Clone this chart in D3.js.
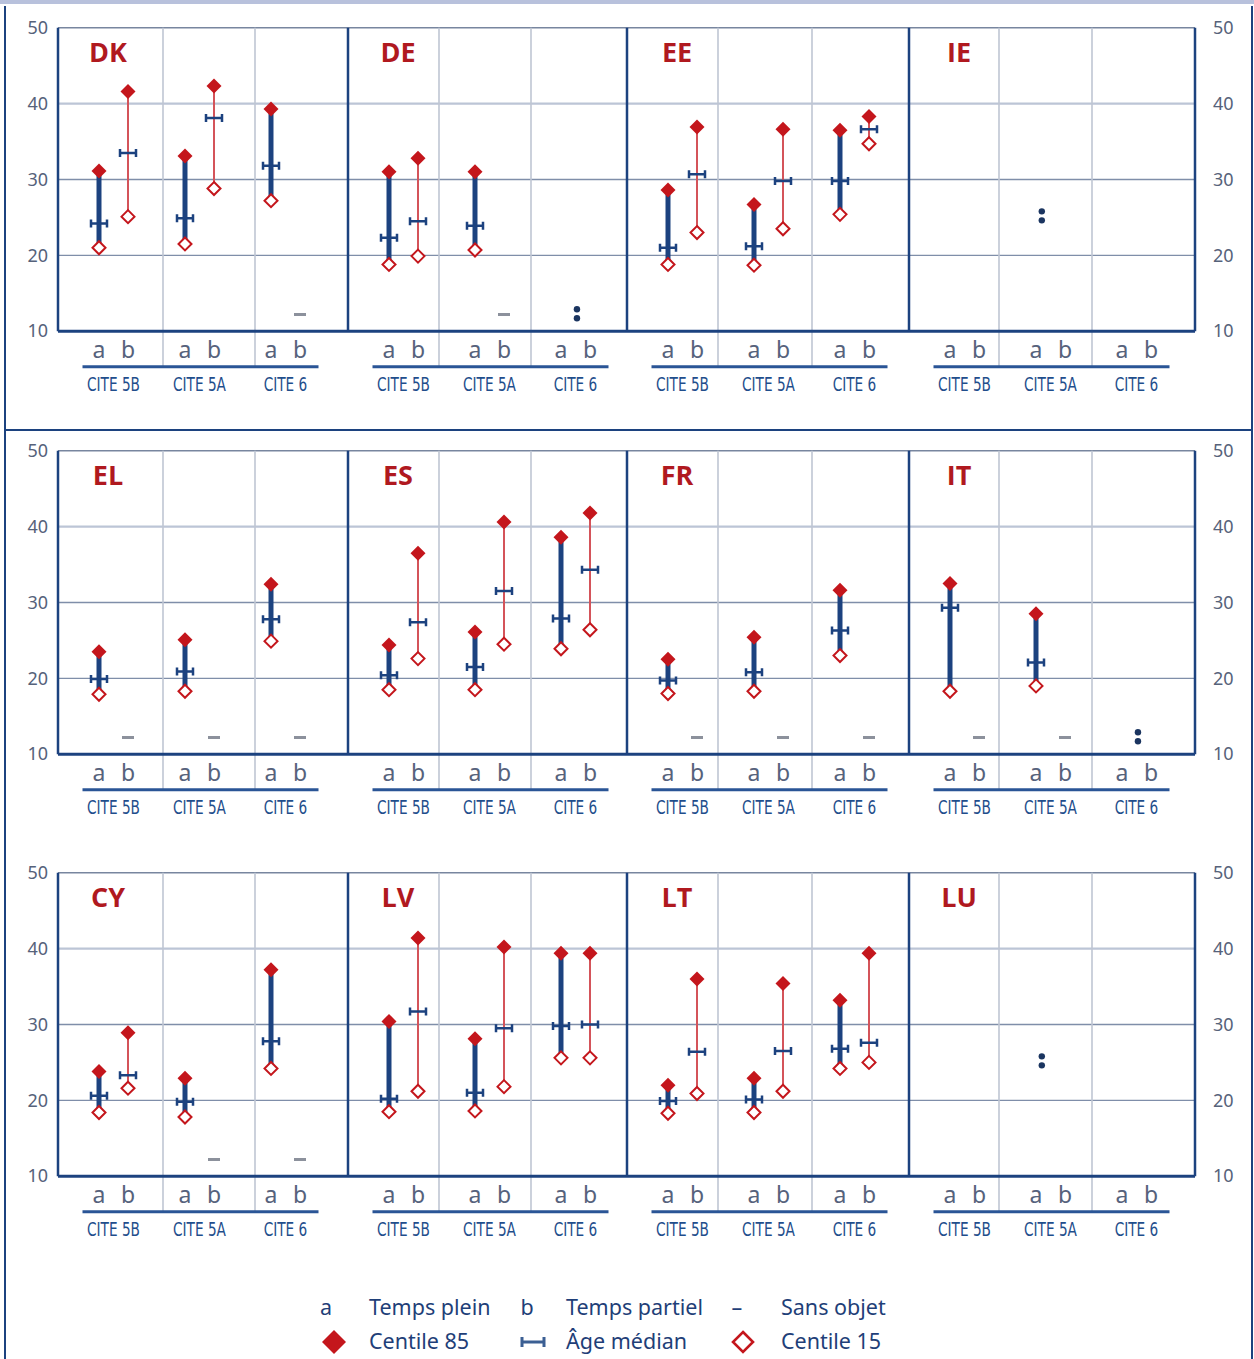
<!DOCTYPE html>
<html><head><meta charset="utf-8">
<script src="https://cdn.jsdelivr.net/npm/d3@7"></script>
<style>body{margin:0;background:#fff} svg{display:block}</style>
</head><body><svg id="chart" width="1254" height="1359"></svg>
<script>
// ---------------- DATA ----------------
const countries = ["DK","DE","EE","IE","EL","ES","FR","IT","CY","LV","LT","LU"];
const groups = ["CITE 5B","CITE 5A","CITE 6"];
const modes = ["a","b"];
const yTicks = [10,20,30,40,50];
// per country, order: 5B-a, 5B-b, 5A-a, 5A-b, 6-a, 6-b  (null = no value)
const centile85 = [
  [31.1,41.6,33.1,42.3,39.3,null],
  [31.0,32.8,31.0,null,null,null],
  [28.6,36.9,26.7,36.6,36.5,38.3],
  [null,null,null,null,null,null],
  [23.5,null,25.1,null,32.4,null],
  [24.4,36.5,26.1,40.6,38.6,41.8],
  [22.5,null,25.4,null,31.6,null],
  [32.5,null,28.5,null,null,null],
  [23.8,28.9,22.9,null,37.2,null],
  [30.4,41.4,28.1,40.2,39.4,39.4],
  [22.0,36.0,22.9,35.4,33.2,39.4],
  [null,null,null,null,null,null]
];
const median = [
  [24.2,33.5,24.9,38.1,31.8,null],
  [22.3,24.5,23.9,null,null,null],
  [21.0,30.7,21.2,29.8,29.8,36.6],
  [null,null,null,null,null,null],
  [19.9,null,20.9,null,27.8,null],
  [20.4,27.4,21.5,31.5,27.9,34.3],
  [19.7,null,20.8,null,26.3,null],
  [29.3,null,22.1,null,null,null],
  [20.6,23.3,19.8,null,27.8,null],
  [20.2,31.7,21.0,29.5,29.8,30.0],
  [19.9,26.4,20.1,26.5,26.8,27.6],
  [null,null,null,null,null,null]
];
const centile15 = [
  [21.0,25.1,21.5,28.8,27.2,null],
  [18.8,19.9,20.7,null,null,null],
  [18.8,23.0,18.7,23.5,25.4,34.7],
  [null,null,null,null,null,null],
  [17.9,null,18.3,null,24.9,null],
  [18.5,22.6,18.5,24.5,23.9,26.4],
  [18.0,null,18.3,null,23.0,null],
  [18.3,null,19.0,null,null,null],
  [18.4,21.6,17.8,null,24.2,null],
  [18.5,21.2,18.6,21.8,25.6,25.6],
  [18.3,20.9,18.4,21.2,24.2,25.0],
  [null,null,null,null,null,null]
];
// "–" sans objet : [country, group, mode]
const sansObjet = [
  ["DK","CITE 6","b"],["DE","CITE 5A","b"],
  ["EL","CITE 5B","b"],["EL","CITE 5A","b"],["EL","CITE 6","b"],
  ["FR","CITE 5B","b"],["FR","CITE 5A","b"],["FR","CITE 6","b"],
  ["IT","CITE 5B","b"],["IT","CITE 5A","b"],
  ["CY","CITE 5A","b"],["CY","CITE 6","b"]
];
const sansObjetLevel = 12.2;
// ":" non disponible : [country, group, position between a(0) and b(1), level]
const nonDisponible = [
  ["DE","CITE 6",0.55,12.3],["IE","CITE 5A",0.2,25.2],
  ["IT","CITE 6",0.55,12.3],["LU","CITE 5A",0.2,25.2]
];
const legendRow1 = [["a","Temps plein"],["b","Temps partiel"],["–","Sans objet"]];
const legendRow2 = [["c85","Centile 85"],["med","Âge médian"],["c15","Centile 15"]];

// ---------------- LAYOUT / STYLE ----------------
const W = 1254, H = 1359;
const rowTops = [27.7, 450.7, 872.7];
const plotH = 303.5;
const colLefts = [58, 348, 627, 909];
const plotRight = 1195;
const dividerOffsets = [[105,197],[91,183],[91,185],[90,183]];
const C = {
  navy: "#1c427f", red: "#c4161c", redLine: "#d4545a", grid: "#7f8ea9",
  gridLight: "#bcc5d6", divider: "#bfc6d3", tick: "#56627a", cite: "#1f4e8c",
  abText: "#56627c", dash: "#8c919c", country: "#b0191f", legend: "#1f3f78"
};

const svg = d3.select("#chart");
svg.append("rect").attr("width", W).attr("height", H).attr("fill", "#fff");

// outer frame
svg.append("rect").attr("x",0).attr("y",0).attr("width",W).attr("height",4).attr("fill","#b8c1dc");
const frame = svg.append("g").attr("stroke", C.navy).attr("stroke-width", 2).attr("fill","none");
frame.append("line").attr("x1",5).attr("x2",5).attr("y1",6).attr("y2",H);
frame.append("line").attr("x1",1252).attr("x2",1252).attr("y1",6).attr("y2",H);
frame.append("line").attr("x1",5).attr("x2",1252).attr("y1",430).attr("y2",430);

const diamond = s => `M0,${-s}L${s},0L0,${s}L${-s},0Z`;

countries.forEach((country, ci) => {
  const row = Math.floor(ci / 4), col = ci % 4;
  const top = rowTops[row], bottom = top + plotH;
  const left = colLefts[col];
  const right = col < 3 ? colLefts[col + 1] : plotRight;
  const y = d3.scaleLinear().domain([10, 50]).range([bottom, top]);
  const x0 = d3.scaleBand().domain(groups).range([left + 12.5, left + 270.5]);
  const x1 = d3.scalePoint().domain(modes).range([-14.5, 14.5]);
  const xc = g => x0(g) + x0.bandwidth() / 2;
  const xm = (g, m) => xc(g) + x1(m);

  const g = svg.append("g");

  // horizontal gridlines
  [20, 30, 40].forEach(v => {
    g.append("line").attr("x1", left).attr("x2", right)
      .attr("y1", y(v)).attr("y2", y(v))
      .attr("stroke", v === 40 ? C.gridLight : C.grid)
      .attr("stroke-width", v === 40 ? 2.2 : 1.4);
  });
  // top line
  g.append("line").attr("x1", left).attr("x2", right).attr("y1", y(50)).attr("y2", y(50))
    .attr("stroke", "#78869f").attr("stroke-width", 1.5);
  // sub dividers (extend through a/b label area)
  dividerOffsets[col].forEach(o => {
    g.append("line").attr("x1", left + o).attr("x2", left + o)
      .attr("y1", y(50)).attr("y2", bottom + 35)
      .attr("stroke", C.divider).attr("stroke-width", 1.6);
  });

  // a/b labels
  groups.forEach(gr => {
    modes.forEach(m => {
      g.append("text").attr("x", xm(gr, m)).attr("y", bottom + 27)
        .attr("text-anchor", "middle").attr("fill", C.abText)
        .attr("font-family", "'Noto Sans', 'Open Sans', sans-serif")
        .attr("font-size", 23).text(m);
    });
    g.append("text")
      .attr("transform", `translate(${xc(gr)},${bottom + 60}) scale(0.76,1)`)
      .attr("text-anchor", "middle").attr("fill", C.cite)
      .attr("font-family", "'Liberation Sans Narrow', 'DejaVu Sans Condensed', 'Liberation Sans', sans-serif")
      .attr("font-size", 20).text(gr);
  });
  // underline
  g.append("line").attr("x1", x0(groups[0]) + 12).attr("x2", x0(groups[2]) + x0.bandwidth() - 10)
    .attr("y1", bottom + 35.5).attr("y2", bottom + 35.5)
    .attr("stroke", "#2a5596").attr("stroke-width", 3);

  // country label
  g.append("text").attr("x", xc(groups[0]) - 5.5).attr("y", top + 34)
    .attr("text-anchor", "middle").attr("fill", C.country)
    .attr("font-family", "'Open Sans', 'Noto Sans', sans-serif").attr("font-weight", 700)
    .attr("font-size", 27).text(country);

  // data marks
  const pts = [];
  groups.forEach((gr, gi) => modes.forEach((m, mi) => {
    const k = gi * 2 + mi;
    const hi = centile85[ci][k], md = median[ci][k], lo = centile15[ci][k];
    if (hi != null) pts.push({ gr, m, hi, md, lo });
  }));
  const mk = g.selectAll("g.pt").data(pts).join("g").attr("class", "pt")
    .attr("transform", d => `translate(${xm(d.gr, d.m)},0)`);
  mk.append("line").attr("y1", d => y(d.lo)).attr("y2", d => y(d.hi))
    .attr("stroke", d => d.m === "a" ? C.navy : C.redLine)
    .attr("stroke-width", d => d.m === "a" ? 5 : 2);
  mk.append("path").attr("d", d => `M-8,${y(d.md)}H8M-8,${y(d.md) - 4}V${y(d.md) + 4}M8,${y(d.md) - 4}V${y(d.md) + 4}`)
    .attr("stroke", C.navy).attr("stroke-width", 2.5).attr("fill", "none");
  mk.append("path").attr("transform", d => `translate(0,${y(d.hi)})`).attr("d", diamond(7.5))
    .attr("fill", C.red);
  mk.append("path").attr("transform", d => `translate(0,${y(d.lo)})`).attr("d", diamond(6.5))
    .attr("fill", "#fff").attr("stroke", C.red).attr("stroke-width", 2);

  // sans objet dashes
  sansObjet.filter(s => s[0] === country).forEach(s => {
    g.append("line").attr("x1", xm(s[1], s[2]) - 6).attr("x2", xm(s[1], s[2]) + 6)
      .attr("y1", y(sansObjetLevel)).attr("y2", y(sansObjetLevel))
      .attr("stroke", C.dash).attr("stroke-width", 3);
  });
  // non disponible ":"
  nonDisponible.filter(s => s[0] === country).forEach(s => {
    const xx = xm(s[1], "a") + s[2] * (xm(s[1], "b") - xm(s[1], "a"));
    [-1, 1].forEach(sg => {
      g.append("circle").attr("cx", xx).attr("cy", y(s[3]) + sg * 4.5).attr("r", 3.2).attr("fill", "#1b3560");
    });
  });

  // frame lines of panel
  g.append("line").attr("x1", left).attr("x2", right).attr("y1", bottom).attr("y2", bottom)
    .attr("stroke", C.navy).attr("stroke-width", 3);
  g.append("line").attr("x1", left).attr("x2", left).attr("y1", top).attr("y2", bottom)
    .attr("stroke", C.navy).attr("stroke-width", 2.5);
  if (col === 3) {
    g.append("line").attr("x1", right).attr("x2", right).attr("y1", top).attr("y2", bottom)
      .attr("stroke", C.navy).attr("stroke-width", 2.5);
  }

  // y axes
  if (col === 0) {
    const ax = svg.append("g").attr("transform", `translate(${left},0)`)
      .call(d3.axisLeft(y).tickValues(yTicks).tickSize(0).tickPadding(10));
    ax.select(".domain").remove();
    ax.selectAll("text").attr("fill", C.tick).attr("font-size", 18)
      .attr("font-family", "'Noto Sans', 'Open Sans', sans-serif");
  }
  if (col === 3) {
    const ax = svg.append("g").attr("transform", `translate(${right},0)`)
      .call(d3.axisRight(y).tickValues(yTicks).tickSize(0).tickPadding(18));
    ax.select(".domain").remove();
    ax.selectAll("text").attr("fill", C.tick).attr("font-size", 18)
      .attr("font-family", "'Noto Sans', 'Open Sans', sans-serif");
  }
});

// ---------------- LEGEND ----------------
const lg = svg.append("g").attr("font-family", "'Noto Sans', 'Open Sans', sans-serif")
  .attr("font-size", 21.5).attr("fill", C.legend);
const symX1 = [326, 527, 737], symX2 = [334, 533, 743], txtX = [369, 566, 781];
legendRow1.forEach((d, i) => {
  lg.append("text").attr("x", symX1[i]).attr("y", 1315).attr("text-anchor", "middle").text(d[0]);
  lg.append("text").attr("x", txtX[i]).attr("y", 1315).text(d[1]);
});
legendRow2.forEach((d, i) => {
  const cx = symX2[i], cy = 1342;
  if (d[0] === "c85") lg.append("path").attr("transform", `translate(${cx},${cy})`).attr("d", diamond(12)).attr("fill", C.red);
  if (d[0] === "c15") lg.append("path").attr("transform", `translate(${cx},${cy})`).attr("d", diamond(10))
    .attr("fill", "#fff").attr("stroke", C.red).attr("stroke-width", 2.6);
  if (d[0] === "med") lg.append("path").attr("d", `M${cx - 11},${cy}H${cx + 11}M${cx - 11},${cy - 5}V${cy + 5}M${cx + 11},${cy - 5}V${cy + 5}`)
    .attr("stroke", "#3b5f93").attr("stroke-width", 3).attr("fill", "none");
  lg.append("text").attr("x", txtX[i]).attr("y", 1349).text(d[1]);
});
</script></body></html>
